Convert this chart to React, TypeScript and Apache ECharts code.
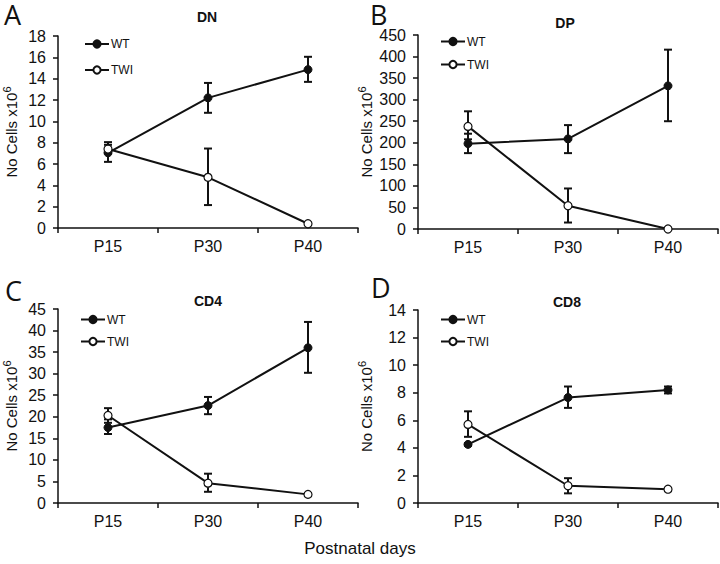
import React, { useEffect, useRef } from "react";
import * as echarts from "echarts";

const categories = ["P15", "P30", "P40"];

// DN
const dnWT = [7.05, 12.2, 14.85];
const dnWTLo = [6.2, 10.8, 13.7];
const dnWTHi = [8.05, 13.6, 16.05];
const dnTWI = [7.4, 4.75, 0.4];
const dnTWILo = [7.0, 2.15, 0.4];
const dnTWIHi = [7.8, 7.45, 0.4];

// DP
const dpWT = [198, 209, 332];
const dpWTLo = [176, 176, 250];
const dpWTHi = [221, 241, 416];
const dpTWI = [238, 54, 0];
const dpTWILo = [208, 15, 0];
const dpTWIHi = [273, 94, 0];

// CD4
const cd4WT = [17.5, 22.6, 36.0];
const cd4WTLo = [16.0, 20.6, 30.2];
const cd4WTHi = [19.4, 24.6, 42.0];
const cd4TWI = [20.3, 4.6, 2.0];
const cd4TWILo = [18.6, 2.6, 2.0];
const cd4TWIHi = [22.0, 6.8, 2.0];

// CD8
const cd8WT = [4.25, 7.65, 8.2];
const cd8WTLo = [4.15, 6.9, 7.95];
const cd8WTHi = [4.35, 8.45, 8.45];
const cd8TWI = [5.7, 1.25, 1.0];
const cd8TWILo = [4.8, 0.7, 1.0];
const cd8TWIHi = [6.65, 1.8, 1.0];

const panelTitles = ["DN", "DP", "CD4", "CD8"];
const panelLetters = ["A", "B", "C", "D"];
const yMax = [18, 450, 45, 14];
const yInterval = [2, 50, 5, 2];
const xTitle = "Postnatal days";

const FONT = "Liberation Sans, Arial, sans-serif";
const INK = "#111";

export default function App() {
  const ref = useRef<HTMLDivElement>(null);
  useEffect(() => {
    document.body.style.margin = "0";
    const chart = echarts.init(ref.current!, null, { renderer: "svg" });

    const panels = [
      { wt: dnWT, wtLo: dnWTLo, wtHi: dnWTHi, twi: dnTWI, twiLo: dnTWILo, twiHi: dnTWIHi },
      { wt: dpWT, wtLo: dpWTLo, wtHi: dpWTHi, twi: dpTWI, twiLo: dpTWILo, twiHi: dpTWIHi },
      { wt: cd4WT, wtLo: cd4WTLo, wtHi: cd4WTHi, twi: cd4TWI, twiLo: cd4TWILo, twiHi: cd4TWIHi },
      { wt: cd8WT, wtLo: cd8WTLo, wtHi: cd8WTHi, twi: cd8TWI, twiLo: cd8TWILo, twiHi: cd8TWIHi },
    ];

    const grids = [
      { left: 58, top: 36, width: 300, height: 192 },
      { left: 418, top: 35, width: 300, height: 194 },
      { left: 58, top: 309, width: 300, height: 194 },
      { left: 418, top: 310, width: 300, height: 193 },
    ];

    const legendPos = [
      { left: 79, top: 33, itemGap: 14 },
      { left: 435, top: 30.5, itemGap: 11 },
      { left: 75, top: 308.5, itemGap: 10 },
      { left: 435, top: 308.5, itemGap: 10 },
    ];

    const titlePos = [
      [207, 17],
      [565, 23],
      [208, 301],
      [567, 302],
    ];
    const letterPos = [
      [4, 14],
      [370, 14],
      [5, 290],
      [371, 287],
    ];

    const errRender = (params: any, api: any) => {
      const x = api.value(0);
      const lo = api.value(1);
      const hi = api.value(2);
      if (hi - lo <= 0) return null;
      const p1 = api.coord([x, lo]);
      const p2 = api.coord([x, hi]);
      const w = 4;
      const style = { stroke: INK, lineWidth: 2 };
      return {
        type: "group",
        children: [
          { type: "line", shape: { x1: p1[0], y1: p1[1], x2: p2[0], y2: p2[1] }, style },
          { type: "line", shape: { x1: p1[0] - w, y1: p1[1], x2: p1[0] + w, y2: p1[1] }, style },
          { type: "line", shape: { x1: p2[0] - w, y1: p2[1], x2: p2[0] + w, y2: p2[1] }, style },
        ],
      };
    };

    const series: any[] = [];
    panels.forEach((p, i) => {
      series.push({
        type: "custom",
        name: "errWT" + i,
        xAxisIndex: i,
        yAxisIndex: i,
        z: 1,
        renderItem: errRender,
        encode: { x: 0, y: [1, 2] },
        data: p.wt.map((_, k) => [k, p.wtLo[k], p.wtHi[k]]),
      });
      series.push({
        type: "custom",
        name: "errTWI" + i,
        xAxisIndex: i,
        yAxisIndex: i,
        z: 1,
        renderItem: errRender,
        encode: { x: 0, y: [1, 2] },
        data: p.twi.map((_, k) => [k, p.twiLo[k], p.twiHi[k]]),
      });
      series.push({
        type: "line",
        name: "WT",
        xAxisIndex: i,
        yAxisIndex: i,
        z: 3,
        data: p.wt,
        symbol: "circle",
        symbolSize: 8,
        lineStyle: { color: INK, width: 2 },
        itemStyle: { color: INK, borderColor: INK, borderWidth: 1 },
      });
      series.push({
        type: "line",
        name: "TWI",
        xAxisIndex: i,
        yAxisIndex: i,
        z: 3,
        data: p.twi,
        symbol: "circle",
        symbolSize: 8,
        showAllSymbol: true,
        lineStyle: { color: INK, width: 2 },
        itemStyle: { color: "#fff", borderColor: INK, borderWidth: 1.2 },
      });
    });

    const graphic: any[] = [];
    panelTitles.forEach((t, i) => {
      graphic.push({
        type: "text",
        x: titlePos[i][0],
        y: titlePos[i][1],
        style: {
          text: t,
          fontFamily: FONT,
          fontSize: 14,
          fontWeight: "bold",
          fill: INK,
          textAlign: "center",
          textVerticalAlign: "middle",
        },
      });
    });
    panelLetters.forEach((t, i) => {
      graphic.push({
        type: "text",
        x: letterPos[i][0],
        y: letterPos[i][1],
        style: {
          text: t,
          fontFamily: "Open Sans, DejaVu Sans, sans-serif",
          fontSize: 27,
          lineHeight: 22,
          fill: INK,
          textAlign: "left",
          textVerticalAlign: "middle",
        },
      });
    });
    graphic.push({
      type: "text",
      x: 360,
      y: 548,
      style: {
        text: xTitle,
        fontFamily: FONT,
        fontSize: 17,
        fill: INK,
        textAlign: "center",
        textVerticalAlign: "middle",
      },
    });

    const option: any = {
      animation: false,
      backgroundColor: "#fff",
      grid: grids,
      legend: legendPos.map((l) => ({
        orient: "vertical",
        left: l.left,
        top: l.top,
        itemGap: l.itemGap,
        itemWidth: 24,
        itemHeight: 9,
        selectedMode: false,
        data: [{ name: "WT" }, { name: "TWI" }],
        textStyle: { fontFamily: FONT, fontSize: 12, color: INK, padding: [0, 0, 0, -3] },
      })),
      xAxis: grids.map((_, i) => ({
        type: "category",
        gridIndex: i,
        data: categories,
        boundaryGap: true,
        axisLine: { lineStyle: { color: INK, width: 1.5 } },
        axisTick: { show: true, length: 5, lineStyle: { color: INK, width: 1.5 } },
        axisLabel: { fontFamily: FONT, fontSize: 16, color: INK, margin: 10 },
        splitLine: { show: false },
      })),
      yAxis: grids.map((_, i) => ({
        type: "value",
        gridIndex: i,
        min: 0,
        max: yMax[i],
        interval: yInterval[i],
        name: "{a|No Cells x10}{b|6}",
        nameLocation: "middle",
        nameGap: i % 2 === 0 ? 39 : 44,
        nameTextStyle: {
          rich: {
            a: { fontFamily: FONT, fontSize: 15, color: INK, lineHeight: 18, verticalAlign: "bottom" },
            b: { fontFamily: FONT, fontSize: 11, color: INK, lineHeight: 18, verticalAlign: "top", padding: [0, 0, 6, 0] },
          },
        },
        axisLine: { show: true, lineStyle: { color: INK, width: 1.5 } },
        axisTick: { show: true, length: 5, lineStyle: { color: INK, width: 1.5 } },
        axisLabel: { fontFamily: FONT, fontSize: 16, color: INK, margin: 12 },
        splitLine: { show: false },
      })),
      series,
      graphic,
    };
    chart.setOption(option);
    return () => chart.dispose();
  }, []);
  return <div ref={ref} style={{ width: 720, height: 564 }} />;
}
